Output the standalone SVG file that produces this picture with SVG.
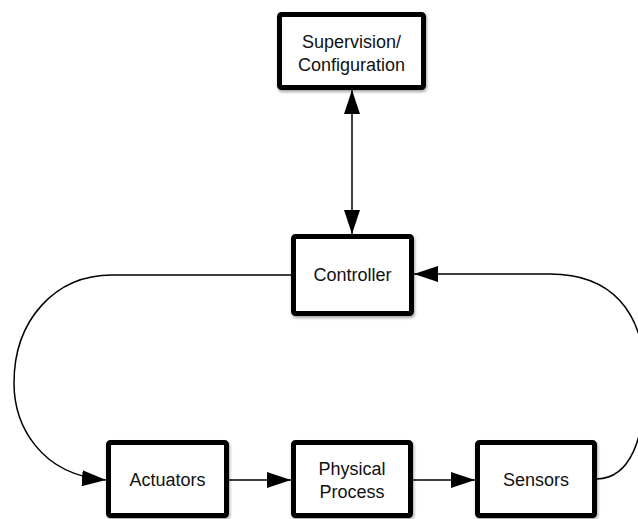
<svg xmlns="http://www.w3.org/2000/svg" width="638" height="519" viewBox="0 0 638 519">
  <style>
    .box { fill: #ffffff; stroke: #000000; stroke-width: 5; filter: url(#shadow); }
    .lbl { font-family: "Liberation Sans", Arial, Helvetica, sans-serif; font-size: 18px; fill: #111111; text-anchor: middle; }
    .conn { fill: none; stroke: #000000; stroke-width: 1.5; }
  </style>
  <defs>
    <filter id="shadow" x="-10%" y="-10%" width="130%" height="130%">
      <feDropShadow dx="1" dy="2" stdDeviation="1.5" flood-color="#000000" flood-opacity="0.35"/>
    </filter>
    <marker id="arrow" markerUnits="userSpaceOnUse" markerWidth="24" markerHeight="16" refX="24" refY="8" orient="auto-start-reverse">
      <path d="M0,0 L24,8 L0,16 z" fill="#000000"/>
    </marker>
  </defs>
  <rect width="638" height="519" fill="#ffffff"/>

  <g id="connectors">
    <line class="conn" x1="352" y1="90" x2="352" y2="234" marker-start="url(#arrow)" marker-end="url(#arrow)"/>
    <path class="conn" d="M 291 275 H 112 C 55 275 14 320 14 383 C 14 425 40 475 106 480" marker-end="url(#arrow)"/>
    <line class="conn" x1="229" y1="480" x2="291" y2="480" marker-end="url(#arrow)"/>
    <line class="conn" x1="413" y1="480" x2="475" y2="480" marker-end="url(#arrow)"/>
    <path class="conn" d="M 597 479 C 630 478 645 440 645 380 C 645 310 610 274 550 274 L 414 274" marker-end="url(#arrow)"/>
  </g>

  <g id="supervision">
    <rect class="box" x="279.5" y="14.5" width="144" height="73" rx="2"/>
    <text class="lbl" x="351.5" y="48">Supervision/</text>
    <text class="lbl" x="351.5" y="71">Configuration</text>
  </g>
  <g id="controller">
    <rect class="box" x="293.5" y="236.5" width="118" height="77" rx="2"/>
    <text class="lbl" x="352.5" y="281">Controller</text>
  </g>
  <g id="actuators">
    <rect class="box" x="108.5" y="442.5" width="118" height="73" rx="2"/>
    <text class="lbl" x="167.5" y="486">Actuators</text>
  </g>
  <g id="physical">
    <rect class="box" x="293.5" y="442.5" width="117" height="73" rx="2"/>
    <text class="lbl" x="352" y="475">Physical</text>
    <text class="lbl" x="352" y="498">Process</text>
  </g>
  <g id="sensors">
    <rect class="box" x="477.5" y="442.5" width="117" height="73" rx="2"/>
    <text class="lbl" x="536" y="486">Sensors</text>
  </g>
</svg>
